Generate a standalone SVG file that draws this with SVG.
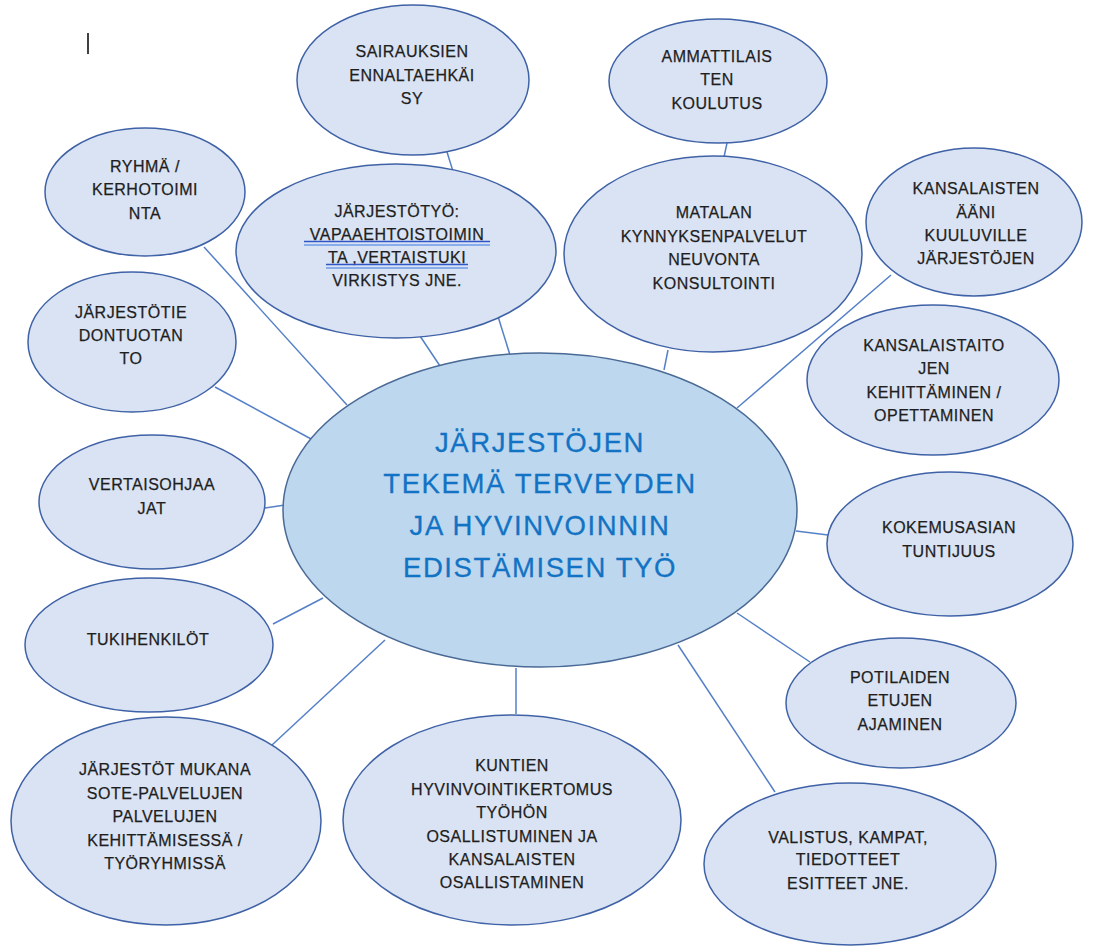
<svg xmlns="http://www.w3.org/2000/svg" width="1097" height="946" viewBox="0 0 1097 946">
<style>
.sat{fill:#DAE3F3;stroke:#3F62A6;stroke-width:1.5}
.hub{fill:#BDD7EE;stroke:#4A6A96;stroke-width:1.5}
.lbl{font-family:"Liberation Sans",Arial,sans-serif;font-size:16px;fill:#1E1E1E;text-anchor:middle;letter-spacing:0.5px;stroke:#1E1E1E;stroke-width:0.25}
.hubt{font-family:"Liberation Sans",Arial,sans-serif;font-size:27.5px;fill:#1273C4;text-anchor:middle;letter-spacing:1.6px;stroke:#1273C4;stroke-width:0.3}
.con{stroke:#5580C8;stroke-width:1.5;fill:none}
.ul1{stroke:#2F56C8;stroke-width:1.5}
.ul2{stroke:#6E9AE8;stroke-width:1.5}
</style>
<rect width="1097" height="946" fill="#FFFFFF"/>
<line x1="88" y1="33" x2="88" y2="54" stroke="#111" stroke-width="1.6"/>
<g id="connectors">
<line class="con" x1="447" y1="152" x2="510" y2="355"/>
<line class="con" x1="420" y1="336" x2="442" y2="369"/>
<line class="con" x1="727" y1="143" x2="724" y2="157"/>
<line class="con" x1="668" y1="350" x2="664" y2="370"/>
<line class="con" x1="891" y1="275" x2="737" y2="408"/>
<line class="con" x1="204" y1="247" x2="347" y2="405"/>
<line class="con" x1="215" y1="387" x2="313" y2="440"/>
<line class="con" x1="265" y1="508" x2="285" y2="505"/>
<line class="con" x1="273" y1="624" x2="323" y2="598"/>
<line class="con" x1="272" y1="745" x2="385" y2="640"/>
<line class="con" x1="516" y1="668" x2="516" y2="714"/>
<line class="con" x1="678" y1="645" x2="775" y2="792"/>
<line class="con" x1="737" y1="613" x2="810" y2="662"/>
<line class="con" x1="796" y1="531" x2="828" y2="535"/>
</g>
<g id="hub">
<ellipse class="hub" cx="540" cy="510" rx="257" ry="157"/>
<text class="hubt" x="540" y="452">JÄRJESTÖJEN</text>
<text class="hubt" x="540" y="493">TEKEMÄ TERVEYDEN</text>
<text class="hubt" x="540" y="535">JA HYVINVOINNIN</text>
<text class="hubt" x="540" y="577">EDISTÄMISEN TYÖ</text>
</g>
<g id="sairauksien">
<ellipse class="sat" cx="413" cy="80" rx="116" ry="75"/>
<text class="lbl" x="412" y="57">SAIRAUKSIEN</text>
<text class="lbl" x="412" y="81">ENNALTAEHKÄI</text>
<text class="lbl" x="412" y="104">SY</text>
</g>
<g id="ammattilaisten">
<ellipse class="sat" cx="718" cy="81" rx="109" ry="62"/>
<text class="lbl" x="717" y="62">AMMATTILAIS</text>
<text class="lbl" x="717" y="85">TEN</text>
<text class="lbl" x="717" y="109">KOULUTUS</text>
</g>
<g id="ryhma">
<ellipse class="sat" cx="145" cy="192" rx="100" ry="64"/>
<text class="lbl" x="145" y="172">RYHMÄ /</text>
<text class="lbl" x="145" y="195">KERHOTOIMI</text>
<text class="lbl" x="145" y="219">NTA</text>
</g>
<g id="jarjestotyo">
<ellipse class="sat" cx="396" cy="251" rx="160" ry="87"/>
<text class="lbl" x="397" y="217">JÄRJESTÖTYÖ:</text>
<text class="lbl" x="397" y="240">VAPAAEHTOISTOIMIN</text>
<text class="lbl" x="397" y="263">TA ,VERTAISTUKI</text>
<text class="lbl" x="397" y="286">VIRKISTYS JNE.</text>
<line class="ul1" x1="304" y1="241.5" x2="490" y2="241.5"/>
<line class="ul2" x1="304" y1="245" x2="490" y2="245"/>
<line class="ul1" x1="326" y1="264.5" x2="468" y2="264.5"/>
<line class="ul2" x1="326" y1="268" x2="468" y2="268"/>
</g>
<g id="matalan">
<ellipse class="sat" cx="713" cy="254" rx="149" ry="98"/>
<text class="lbl" x="714" y="218">MATALAN</text>
<text class="lbl" x="714" y="242">KYNNYKSENPALVELUT</text>
<text class="lbl" x="714" y="265">NEUVONTA</text>
<text class="lbl" x="714" y="289">KONSULTOINTI</text>
</g>
<g id="kansalaisten-aani">
<ellipse class="sat" cx="974" cy="222" rx="108" ry="74"/>
<text class="lbl" x="976" y="194">KANSALAISTEN</text>
<text class="lbl" x="976" y="218">ÄÄNI</text>
<text class="lbl" x="976" y="241">KUULUVILLE</text>
<text class="lbl" x="976" y="264">JÄRJESTÖJEN</text>
</g>
<g id="tiedontuotanto">
<ellipse class="sat" cx="132" cy="342" rx="104" ry="70"/>
<text class="lbl" x="131" y="318">JÄRJESTÖTIE</text>
<text class="lbl" x="131" y="341">DONTUOTAN</text>
<text class="lbl" x="131" y="364">TO</text>
</g>
<g id="kansalaistaitojen">
<ellipse class="sat" cx="933" cy="380" rx="126" ry="75"/>
<text class="lbl" x="934" y="351">KANSALAISTAITO</text>
<text class="lbl" x="934" y="374">JEN</text>
<text class="lbl" x="934" y="398">KEHITTÄMINEN /</text>
<text class="lbl" x="934" y="421">OPETTAMINEN</text>
</g>
<g id="vertaisohjaajat">
<ellipse class="sat" cx="152" cy="502" rx="113" ry="67"/>
<text class="lbl" x="152" y="490">VERTAISOHJAA</text>
<text class="lbl" x="152" y="514">JAT</text>
</g>
<g id="kokemusasian">
<ellipse class="sat" cx="950" cy="544" rx="123" ry="72"/>
<text class="lbl" x="949" y="533">KOKEMUSASIAN</text>
<text class="lbl" x="949" y="557">TUNTIJUUS</text>
</g>
<g id="tukihenkilot">
<ellipse class="sat" cx="149" cy="645" rx="124" ry="67"/>
<text class="lbl" x="148" y="645">TUKIHENKILÖT</text>
</g>
<g id="potilaiden">
<ellipse class="sat" cx="901" cy="703" rx="115" ry="65"/>
<text class="lbl" x="900" y="683">POTILAIDEN</text>
<text class="lbl" x="900" y="706">ETUJEN</text>
<text class="lbl" x="900" y="730">AJAMINEN</text>
</g>
<g id="jarjestot-mukana">
<ellipse class="sat" cx="166" cy="821" rx="155" ry="104"/>
<text class="lbl" x="165" y="775">JÄRJESTÖT MUKANA</text>
<text class="lbl" x="165" y="798.5">SOTE-PALVELUJEN</text>
<text class="lbl" x="165" y="822">PALVELUJEN</text>
<text class="lbl" x="165" y="845.5">KEHITTÄMISESSÄ /</text>
<text class="lbl" x="165" y="869">TYÖRYHMISSÄ</text>
</g>
<g id="kuntien">
<ellipse class="sat" cx="512" cy="820" rx="169" ry="105"/>
<text class="lbl" x="512" y="771">KUNTIEN</text>
<text class="lbl" x="512" y="794.5">HYVINVOINTIKERTOMUS</text>
<text class="lbl" x="512" y="818">TYÖHÖN</text>
<text class="lbl" x="512" y="841.5">OSALLISTUMINEN JA</text>
<text class="lbl" x="512" y="865">KANSALAISTEN</text>
<text class="lbl" x="512" y="888">OSALLISTAMINEN</text>
</g>
<g id="valistus">
<ellipse class="sat" cx="850" cy="864" rx="146" ry="81"/>
<text class="lbl" x="848" y="843">VALISTUS, KAMPAT,</text>
<text class="lbl" x="848" y="865">TIEDOTTEET</text>
<text class="lbl" x="848" y="889">ESITTEET JNE.</text>
</g>
</svg>
